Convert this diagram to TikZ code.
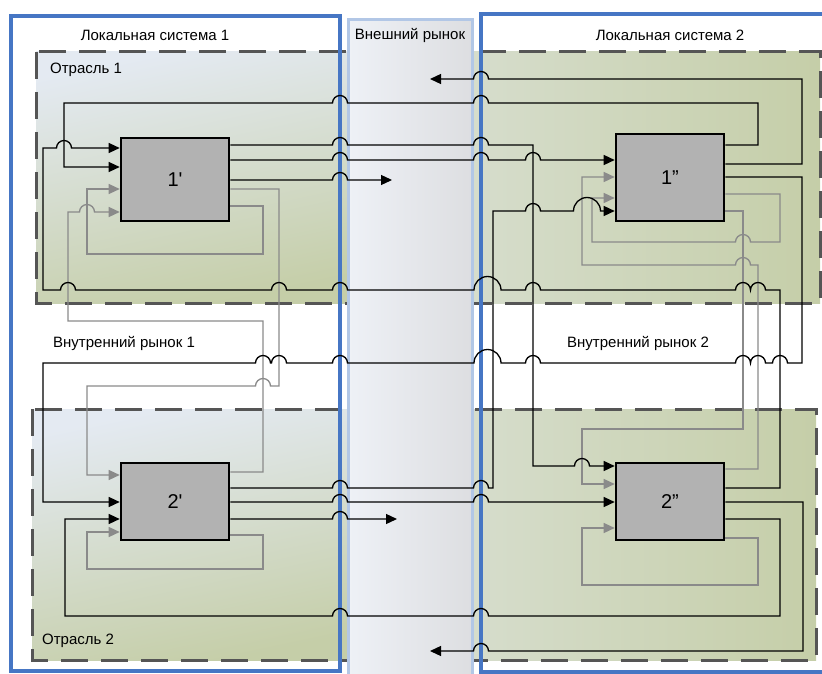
\documentclass[tikz,border=0pt]{standalone}
\usepackage{fontspec}
\setmainfont{Liberation Sans}
\newfontfamily\boxfont{Liberation Sans}[Ligatures=TeXOff]
\usetikzlibrary{arrows.meta}
\definecolor{sysblue}{RGB}{70,118,196}
\definecolor{mktedge}{RGB}{178,199,230}
\definecolor{mktL}{RGB}{238,241,246}
\definecolor{mktR}{RGB}{221,222,225}
\definecolor{indTop}{RGB}{228,234,242}
\definecolor{indBot}{RGB}{197,206,168}
\definecolor{indMid}{RGB}{214,221,204}
\definecolor{dashc}{RGB}{85,85,85}
\definecolor{boxfill}{RGB}{178,178,178}
\definecolor{gline}{RGB}{138,138,138}
\newcommand\jumpr[2]{-- ({#1-7.5},#2) arc[start angle=180,end angle=0,radius=7.5pt]}
\newcommand\jumpl[2]{-- ({#1+7.5},#2) arc[start angle=0,end angle=180,radius=7.5pt]}
\newcommand\wjumpr[2]{-- ({#1-13.5},#2) arc[start angle=180,end angle=0,radius=13.5pt]}
\newcommand\wjumpl[2]{-- ({#1+13.5},#2) arc[start angle=0,end angle=180,radius=13.5pt]}
\tikzset{
  blk/.style={draw=black, line width=2.6pt, fill=boxfill, minimum width=108pt, inner sep=0pt, font=\boxfont\fontsize{20}{22}\selectfont},
  conn/.style={line width=1.3pt, draw=black},
  gconn/.style={line width=1.3pt, draw=gline},
  arr/.style={-{Triangle[length=11pt,width=10pt]}},
  garr/.style={-{Triangle[length=11pt,width=10pt,fill=gline]}},
  lbl/.style={font=\fontsize{15}{17}\selectfont, inner sep=0pt},
  zone/.style={draw=dashc, line width=3pt, dash pattern=on 27pt off 13pt},
  sysbox/.style={draw=sysblue, line width=4pt},
}
\begin{document}
\begin{tikzpicture}[x=1pt,y=-1pt]
\useasboundingbox (0,0) rectangle (822,674);
\clip (0,0) rectangle (822,674);
% industry zones fills
\shade[top color=indTop, bottom color=indBot, shading angle=12] (36,52) rectangle (348,303);
\shade[left color=indMid, right color=indBot] (472,52) rectangle (820,303);
\shade[top color=indTop, bottom color=indBot, shading angle=12] (32,409) rectangle (348,660);
\shade[left color=indMid, right color=indBot] (472,409) rectangle (816,660);
\draw[zone] (36,52) rectangle (820,303);
\draw[zone] (32,409) rectangle (816,660);
% external market column
\shade[left color=mktL, right color=mktR] (348,20) rectangle (472,700);
\draw[mktedge, line width=3pt] (348,700) -- (348,20) -- (472,20) -- (472,700);
% local systems
\draw[sysbox] (11,16) rectangle (340,671);
\draw[sysbox] (481,14) rectangle (840,672);
% labels
\node[lbl] (t1) at (155,35) {Локальная система 1};
\node[lbl] (t2) at (410,35) {Внешний рынок};
\node[lbl] (t3) at (670,35) {Локальная система 2};
\node[lbl, anchor=west] (o1) at (50,70) {Отрасль 1};
\node[lbl, anchor=west] (o2) at (42,641) {Отрасль 2};
\node[lbl, anchor=west] (v1) at (53,343) {Внутренний рынок 1};
\node[lbl, anchor=west] (v2) at (567,343) {Внутренний рынок 2};
% boxes
\node[blk, minimum height=83pt] (b1) at (175,179.5) {1'};
\node[blk, minimum height=87pt] (b2) at (670,177.5) {1”};
\node[blk, minimum height=77pt] (b3) at (175,501.5) {2'};
\node[blk, minimum height=77pt] (b4) at (670,501.5) {2”};
\coordinate (ex1) at (392,180);
\coordinate (ex2) at (397,519);
\coordinate (im1) at (430,79);
\coordinate (im2) at (430,651);
% grey connectors
\draw[gconn,garr] (b1.east |- 0,206) -- (263,206) -- (263,254) -- (87,254) -- (87,189) -- (b1.west |- 0,189);
\draw[gconn,garr] (b1.east |- 0,189) -- (279,189) -- (279,386) \jumpl{263}{386} -- (87,386) -- (87,475) -- (b3.west |- 0,475);
\draw[gconn,garr] (b3.east |- 0,472) -- (263,472) -- (263,321) -- (68,321) -- (68,212) \jumpr{87}{212} -- (b1.west |- 0,212);
\draw[gconn,garr] (b3.east |- 0,535) -- (263,535) -- (263,569) -- (87,569) -- (87,532) -- (b3.west |- 0,532);
\draw[gconn,garr] (b2.east |- 0,194) -- (780,194) -- (780,242) \jumpl{743}{242} -- (592,242) -- (592,198) -- (b2.west |- 0,198);
\draw[gconn,garr] (b4.east |- 0,469) -- (758,469) -- (758,265) \jumpl{743}{265} -- (582,265) -- (582,177) -- (b2.west |- 0,177);
\draw[gconn,garr] (b2.east |- 0,211) -- (743,211) -- (743,429) -- (582,429) -- (582,484) -- (b4.west |- 0,484);
\draw[gconn,garr] (b4.east |- 0,538) -- (758,538) -- (758,585) -- (582,585) -- (582,528) -- (b4.west |- 0,528);
% black connectors
\draw[conn,arr] (b2.east |- 0,145) -- (758,145) -- (758,103) \jumpl{481}{103} \jumpl{340}{103} -- (64,103) -- (64,167) -- (b1.west |- 0,167);
\draw[conn,arr] (b2.east |- 0,164) -- (802,164) -- (802,79) \jumpl{481}{79} -- (im1);
\draw[conn,arr] (b2.east |- 0,177) -- (802,177) -- (802,363) \jumpl{780}{363} \jumpl{758}{363} \jumpl{743}{363} \jumpl{533}{363} \wjumpl{487.5}{363} \jumpl{340}{363} \jumpl{279}{363} \jumpl{263}{363} -- (43,363) -- (43,502) -- (b3.west |- 0,502);
\draw[conn,arr] (b4.east |- 0,488) -- (780,488) -- (780,290) \jumpl{758}{290} \jumpl{743}{290} \jumpl{533}{290} \wjumpl{487.5}{290} \jumpl{340}{290} \jumpl{279}{290} \jumpl{68}{290} -- (43,290) -- (43,148) \jumpr{64}{148} -- (b1.west |- 0,148);
\draw[conn,arr] (b1.east |- 0,145) \jumpr{340}{145} \jumpr{481}{145} -- (533,145) -- (533,466) \jumpr{582}{466} -- (b4.west |- 0,466);
\draw[conn,arr] (b1.east |- 0,160) \jumpr{340}{160} \jumpr{481}{160} \jumpr{533}{160} -- (b2.west |- 0,160);
\draw[conn,arr] (b1.east |- 0,180) \jumpr{340}{180} -- (ex1);
\draw[conn,arr] (b3.east |- 0,488) \jumpr{340}{488} \jumpr{481}{488} -- (493,488) -- (493,211) \jumpr{533}{211} \wjumpr{587}{211} -- (b2.west |- 0,211);
\draw[conn,arr] (b3.east |- 0,502) \jumpr{340}{502} \jumpr{481}{502} -- (b4.west |- 0,502);
\draw[conn,arr] (b3.east |- 0,519) \jumpr{340}{519} -- (ex2);
\draw[conn,arr] (b4.east |- 0,502) -- (803,502) -- (803,651) \jumpl{481}{651} -- (im2);
\draw[conn,arr] (b4.east |- 0,519) -- (780,519) -- (780,616) \jumpl{481}{616} \jumpl{340}{616} -- (65,616) -- (65,519) -- (b3.west |- 0,519);
\end{tikzpicture}
\end{document}
